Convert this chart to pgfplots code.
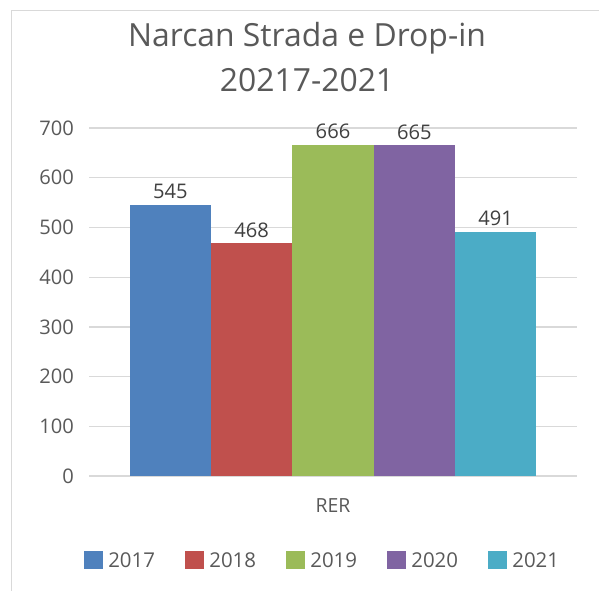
\documentclass[border=0pt]{standalone}
\usepackage{fontspec}
\setmainfont{Open Sans}
\usepackage{pgfplots}
\pgfplotsset{compat=1.18}
\definecolor{cA}{HTML}{4F81BD}
\definecolor{cB}{HTML}{C0504D}
\definecolor{cC}{HTML}{9BBB59}
\definecolor{cD}{HTML}{8064A2}
\definecolor{cE}{HTML}{4BACC6}
\definecolor{txt}{HTML}{595959}
\definecolor{val}{HTML}{404040}
\definecolor{grd}{HTML}{D9D9D9}
\begin{document}
\begin{tikzpicture}
\useasboundingbox (0,0) rectangle (599bp,-591bp);
\draw[grd, line width=1bp] (11.5bp,-591bp) -- (11.5bp,-10.5bp) -- (600bp,-10.5bp);
\node[anchor=base, inner sep=0pt, text=txt, font=\fontsize{32}{40}\selectfont] at (307bp,-46.7bp) {Narcan Strada e Drop-in};
\node[anchor=base, inner sep=0pt, text=txt, font=\fontsize{32}{40}\selectfont] at (307bp,-91.7bp) {20217-2021};
\begin{axis}[
  at={(89bp,-476bp)}, anchor=south west,
  width=488bp, height=348bp, scale only axis,
  xmin=-3, xmax=3, ymin=0, ymax=700,
  ybar, bar width=1,
  axis line style={draw=none},
  major tick length=0pt,
  ytick={0,100,...,700},
  xtick={0}, xticklabels={RER},
  ymajorgrids, grid style={grd, line width=1.3bp},
  /pgf/number format/assume math mode=true,
  yticklabel style={font=\fontsize{20.2}{21}\selectfont, text=txt, inner sep=0pt, anchor=east, xshift=-15bp},
  xticklabel style={font=\fontsize{19.5}{20}\selectfont, text=txt, inner sep=0pt, anchor=north, yshift=-22.3bp},
  nodes near coords,
  nodes near coords style={font=\fontsize{20.2}{21}\selectfont, text=val, inner sep=0pt, anchor=south, yshift=5.7bp},
  legend columns=5,
  legend image code/.code={\fill[#1] (0bp,-1.3bp) rectangle (18.6bp,17.3bp);},
  legend style={at={(-0.0096,-0.2414)}, anchor=west, draw=none, fill=none, inner sep=0pt, outer sep=0pt,
    font=\fontsize{20.5}{21}\selectfont, text=txt,
    nodes={inner sep=0pt, anchor=base west},
    /tikz/every odd column/.append style={column sep=5.4bp},
    /tikz/every even column/.append style={column sep=30.3bp}},
]
\addplot[fill=cA, draw=none, bar shift=0] coordinates {(-2,545)};
\addplot[fill=cB, draw=none, bar shift=0] coordinates {(-1,468)};
\addplot[fill=cC, draw=none, bar shift=0] coordinates {(0,666)};
\addplot[fill=cD, draw=none, bar shift=0] coordinates {(1,665)};
\addplot[fill=cE, draw=none, bar shift=0] coordinates {(2,491)};
\legend{2017,2018,2019,2020,2021}
\end{axis}
\end{tikzpicture}
\end{document}
